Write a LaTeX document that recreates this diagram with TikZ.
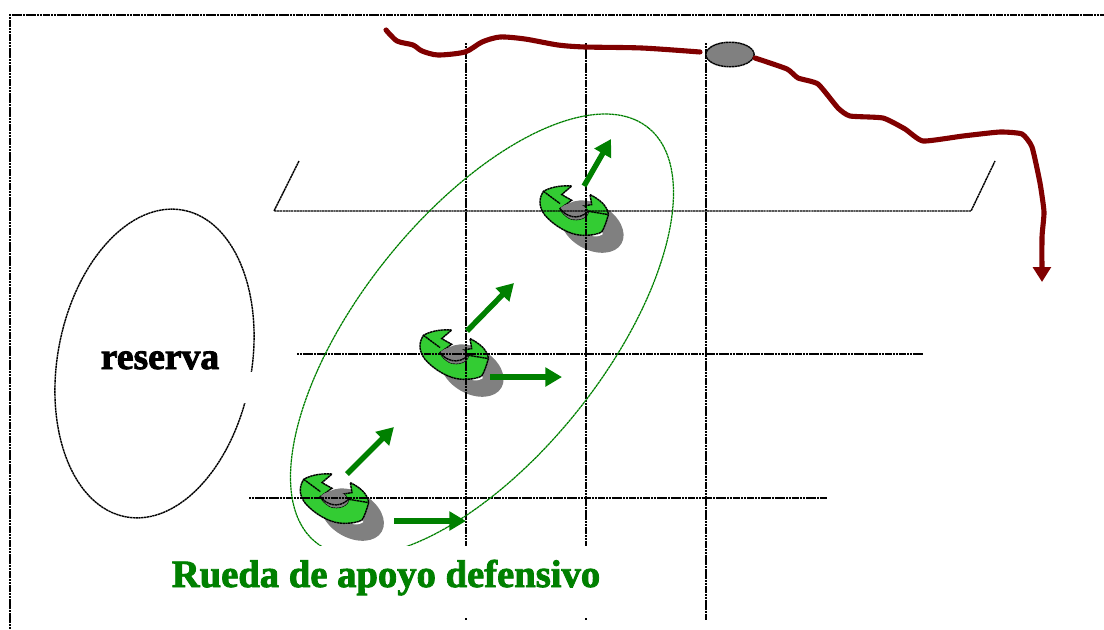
\documentclass[tikz,border=0pt]{standalone}
\usepackage{fontspec}
\setmainfont{Liberation Serif}
\newfontfamily\negrita[FakeBold=2.2]{Liberation Serif Bold}
\usetikzlibrary{arrows.meta,shapes.geometric}
\definecolor{verde}{HTML}{008000}
\definecolor{verdeclaro}{HTML}{33CC33}
\definecolor{granate}{HTML}{800000}
\definecolor{gris}{HTML}{808080}
\tikzset{
  punteada/.style={black,line width=.8pt,dash pattern=on 1.3pt off .3pt},
  flecha/.style={verde,line width=3.1pt,-{Triangle[length=9.5pt,width=10.5pt]}},
  rutabalon/.style={granate,line width=2.9pt,line cap=round,line join=round},
  rueda/.pic={
    \fill[gris,rotate around={-30:(10.3,16.3)}] (10.3,16.3) ellipse (34 and 23);
    \fill[gris] (-21.7,-1.7) .. controls (-17,-7) and (-8,-9) .. (1.7,-4.3)
      -- (6.7,1) -- (6,10) -- (-12,10) -- cycle;
    \fill[white] (10,25.5) .. controls (14,24) and (18,23) .. (21,20) -- (21,24)
      .. controls (17,26.5) and (13,26.5) .. (10,25.5);
    \draw[punteada,fill=verdeclaro] (-10,-24.3) .. controls (-18,-25) and (-30,-24) .. (-38.3,-19)
      .. controls (-44,-10) and (-42,-2) .. (-36.7,5)
      .. controls (-30,13) and (-14,25) .. (1.7,25)
      .. controls (10,25) and (16,24) .. (20,21.7) .. controls (23,17) and (25,10) .. (26.7,4.3)
      .. controls (26,-4) and (18,-11) .. (8.3,-15.7)
      -- (10,-5.7) -- (1.7,-4.3) -- (6.7,1)
      .. controls (6,8) and (-4,11) .. (-11.7,8.3)
      .. controls (-16,6) and (-20,2) .. (-21.7,-1.7)
      -- (-10,-10) -- (-20,-15.7) -- cycle;
    \draw[punteada] (-38.3,-19) -- (-21.7,-6.7);
    \draw[punteada] (6.7,1) -- (26.7,4.3);
    \fill[gris] (-21.7,-1.7) .. controls (-17,-7) and (-8,-9) .. (1.7,-4.3)
      -- (6.7,1) .. controls (6,8) and (-4,11) .. (-11.7,8.3)
      .. controls (-16,6) and (-20,2) .. (-21.7,-1.7);
    \draw[punteada] (-21.7,-1.7) .. controls (-16,6) and (-4,11) .. (6.7,1);
  }
}
\begin{document}
\begin{tikzpicture}[x=0.02cm,y=-0.02cm]
  \useasboundingbox (0,0) rectangle (1104,629);
  % jugadores
  \coordinate (jugA) at (342,498.3);
  \coordinate (jugB) at (461.7,354.3);
  \coordinate (jugC) at (581.7,210.3);
  \pic at (jugA) {rueda};
  \pic at (jugB) {rueda};
  \pic at (jugC) {rueda};
  % marco
  \draw[punteada] (10,629) -- (10,15) -- (1104,15);
  % cancha
  \draw[punteada] (466,43) -- (466,620);
  \draw[punteada] (586,43) -- (586,620);
  \draw[punteada] (706,43) -- (706,620);
  \draw[punteada] (299,161) -- (274,211) -- (971,211) -- (995,161);
  \draw[punteada] (297,354) -- (923,354);
  \draw[punteada] (249,498) -- (827,498);
  % reserva y rueda
  \draw[punteada,rotate around={79.4:(154.5,363.5)}] (154.5,363.5) ellipse (156 and 97);
  \draw[verde,line width=.7pt,dash pattern=on 1.5pt off .3pt,rotate around={51.3:(482,335)}] (482,335) ellipse (265.7 and 122);
  \fill[white] (200,372) rectangle (256,403);
  \fill[white] (14,546) rectangle (700,618);
  \node[anchor=base,inner sep=0pt,font=\negrita\fontsize{21.4}{24}\selectfont] (reserva) at (160,369) {reserva};
  \node[anchor=base,inner sep=0pt,text=verde,font=\negrita\fontsize{22}{26}\selectfont] (rotulo) at (386,587) {Rueda de apoyo defensivo};
  % flechas
  \coordinate (a1) at (347,474);
  \coordinate (a2) at (394,427);
  \coordinate (b1) at (394,521);
  \coordinate (b2) at (466,521);
  \coordinate (c1) at (467,331);
  \coordinate (c2) at (514,283);
  \coordinate (d1) at (490,377);
  \coordinate (d2) at (562,377);
  \coordinate (e1) at (584,186);
  \coordinate (e2) at (611,139);
  \draw[flecha] (a1) -- (a2);
  \draw[flecha] (b1) -- (b2);
  \draw[flecha] (c1) -- (c2);
  \draw[flecha] (d1) -- (d2);
  \draw[flecha] (e1) -- (e2);
  % balon
  \node[ellipse,punteada,draw,fill=gris,inner sep=0pt,minimum width=27.5pt,minimum height=14pt] (balon) at (730,54.5) {};
  \draw[rutabalon] plot[smooth,tension=.45] coordinates {(386,30) (397,41) (413,45) (422,51) (438,55) (465,52) (482,42) (500,37) (525,39) (558,45) (585,47) (642,48) (700,52)};
  \draw[rutabalon,-{Triangle[length=8.5pt,width=10pt]}] plot[smooth,tension=.3] coordinates {(755,58) (787,69) (798,78) (818,84) (838,108) (850,116) (883,118) (905,129) (923,141) (963,136) (1000,132) (1022,134) (1032,147) (1040,183) (1044,212) (1042,237) (1042,282)};
\end{tikzpicture}
\end{document}
